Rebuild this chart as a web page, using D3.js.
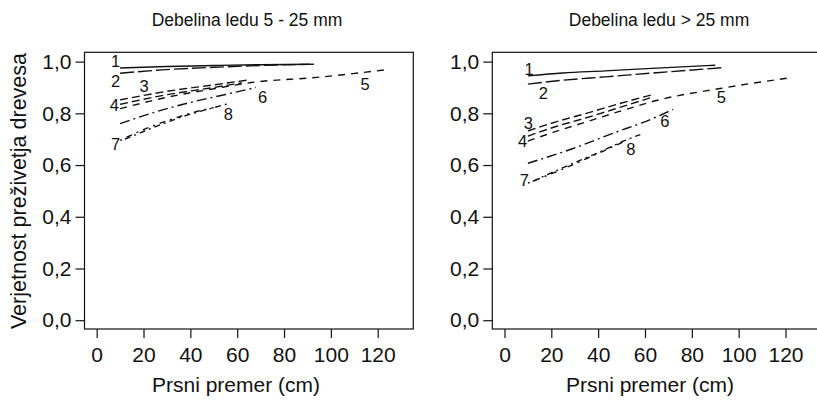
<!DOCTYPE html>
<html><head><meta charset="utf-8">
<script src="https://cdn.jsdelivr.net/npm/d3@7"></script>
<style>
html,body{margin:0;padding:0;background:#fff;}
svg text{font-family:"Liberation Sans",Arial,sans-serif;fill:#111;}
</style></head>
<body><svg id="c" width="817" height="409"></svg>
<script>
// ---- data ----
const panelTitles = ["Debelina ledu 5 - 25 mm", "Debelina ledu > 25 mm"];
const xLabel = "Prsni premer (cm)";
const yLabel = "Verjetnost preživetja drevesa";
const xTicks = [0, 20, 40, 60, 80, 100, 120];
const yTicks = [0, 0.2, 0.4, 0.6, 0.8, 1.0];
const seriesNames = ["1","2","3","4","5","6","7","8"];

// Panel 1: ice thickness 5 - 25 mm
const thinX = [
  [10, 30, 50, 70, 91],
  [10, 28, 50, 70, 94],
  [10, 30, 50, 64],
  [10, 30, 50, 62],
  [10, 30, 50, 66, 94, 125],
  [10, 25, 40, 55, 68],
  [10, 20, 32, 44, 50],
  [12, 25, 40, 50, 56]
];
const thinY = [
  [0.975, 0.981, 0.985, 0.988, 0.990],
  [0.955, 0.968, 0.978, 0.985, 0.990],
  [0.852, 0.885, 0.910, 0.928],
  [0.835, 0.872, 0.900, 0.918],
  [0.818, 0.862, 0.895, 0.919, 0.939, 0.970],
  [0.760, 0.805, 0.842, 0.873, 0.900],
  [0.695, 0.737, 0.777, 0.810, 0.822],
  [0.700, 0.748, 0.797, 0.822, 0.837]
];
// Panel 2: ice thickness > 25 mm
const thickX = [
  [10, 25, 43, 65, 90],
  [10, 25, 43, 65, 94],
  [10, 22, 35, 50, 64],
  [10, 22, 35, 50, 63],
  [10, 22, 35, 50, 66, 92, 123],
  [10, 29, 47, 62, 72],
  [10, 25, 40, 52],
  [12, 25, 40, 52, 58]
];
const thickY = [
  [0.945, 0.956, 0.964, 0.975, 0.986],
  [0.913, 0.928, 0.941, 0.957, 0.977],
  [0.732, 0.767, 0.800, 0.840, 0.874],
  [0.712, 0.749, 0.783, 0.825, 0.862],
  [0.693, 0.730, 0.767, 0.810, 0.852, 0.896, 0.939],
  [0.607, 0.663, 0.725, 0.775, 0.815],
  [0.530, 0.585, 0.645, 0.695],
  [0.537, 0.590, 0.648, 0.697, 0.718]
];
// label anchors (data units)
const thinLabelX = [8.1, 8.1, 20.3, 7.5, 114.6, 70.9, 8.1, 56.2];
const thinLabelY = [1.002, 0.926, 0.906, 0.831, 0.915, 0.864, 0.683, 0.797];
const thickLabelX = [10.5, 16.6, 10.2, 7.7, 92.6, 68.5, 8.5, 54.0];
const thickLabelY = [0.971, 0.877, 0.764, 0.691, 0.861, 0.771, 0.541, 0.661];

// ---- styles ----
const dashes = ["", "14,4", "8,4", "8,4", "7,6", "10,4,2,4", "2,5,6,5", "6,4,2,4"];

const svg = d3.select("#c");
const panels = [
  {left: 84.5, title: panelTitles[0], xs: thinX, ys: thinY, lx: thinLabelX, ly: thinLabelY, showY: true, xlabX: 236, titleX: 247},
  {left: 492.3, title: panelTitles[1], xs: thickX, ys: thickY, lx: thickLabelX, ly: thickLabelY, showY: false, xlabX: 650, titleX: 659}
];
const boxTop = 52.3, boxBottom = 329, boxWidth = 328.8;

panels.forEach((p, pi) => {
  const x = d3.scaleLinear().domain([-5.2, 135.2]).range([p.left, p.left + boxWidth]);
  const y = d3.scaleLinear().domain([-0.034, 1.036]).range([boxBottom, boxTop]);
  const g = svg.append("g");

  g.append("rect").attr("x", p.left).attr("y", boxTop).attr("width", boxWidth).attr("height", boxBottom - boxTop)
    .attr("fill", "none").attr("stroke", "#111").attr("stroke-width", 1.2);

  const xa = g.append("g").attr("transform", `translate(0,${boxBottom})`)
    .call(d3.axisBottom(x).tickValues(xTicks).tickSize(9).tickPadding(9).tickFormat(d3.format("d")));
  xa.select(".domain").remove();
  xa.selectAll("line").attr("stroke", "#111").attr("stroke-width", 1.2);
  xa.selectAll("text").style("font-size", "21px").attr("fill", "#111");

  const ya = g.append("g").attr("transform", `translate(${p.left},0)`)
    .call(d3.axisLeft(y).tickValues(yTicks).tickSize(9).tickPadding(4)
      .tickFormat(d => d3.format(".1f")(d).replace(".", ",")));
  ya.select(".domain").remove();
  ya.selectAll("line").attr("stroke", "#111").attr("stroke-width", 1.2);
  ya.selectAll("text").style("font-size", "21px").attr("fill", "#111");

  g.append("text").attr("x", p.titleX).attr("y", 26).attr("text-anchor", "middle")
    .style("font-size", "17.5px").text(p.title);
  g.append("text").attr("x", p.xlabX).attr("y", 392).attr("text-anchor", "middle")
    .style("font-size", "21px").text(xLabel);
  if (p.showY) {
    svg.append("text").attr("transform", "translate(26,191) rotate(-90)").attr("text-anchor", "middle")
      .style("font-size", "21.5px").text(yLabel);
  }

  const line = d3.line().x(d => x(d[0])).y(d => y(d[1])).curve(d3.curveMonotoneX);
  seriesNames.forEach((name, i) => {
    const pts = p.xs[i].map((v, k) => [v, p.ys[i][k]]);
    g.append("path").attr("d", line(pts)).attr("fill", "none").attr("stroke", "#111")
      .attr("stroke-width", 1.4).attr("stroke-dasharray", dashes[i] || null);
    g.append("text").attr("x", x(p.lx[i])).attr("y", y(p.ly[i])).attr("dy", "0.36em")
      .attr("text-anchor", "middle").style("font-size", "16.5px").text(name);
  });
});
</script></body></html>
